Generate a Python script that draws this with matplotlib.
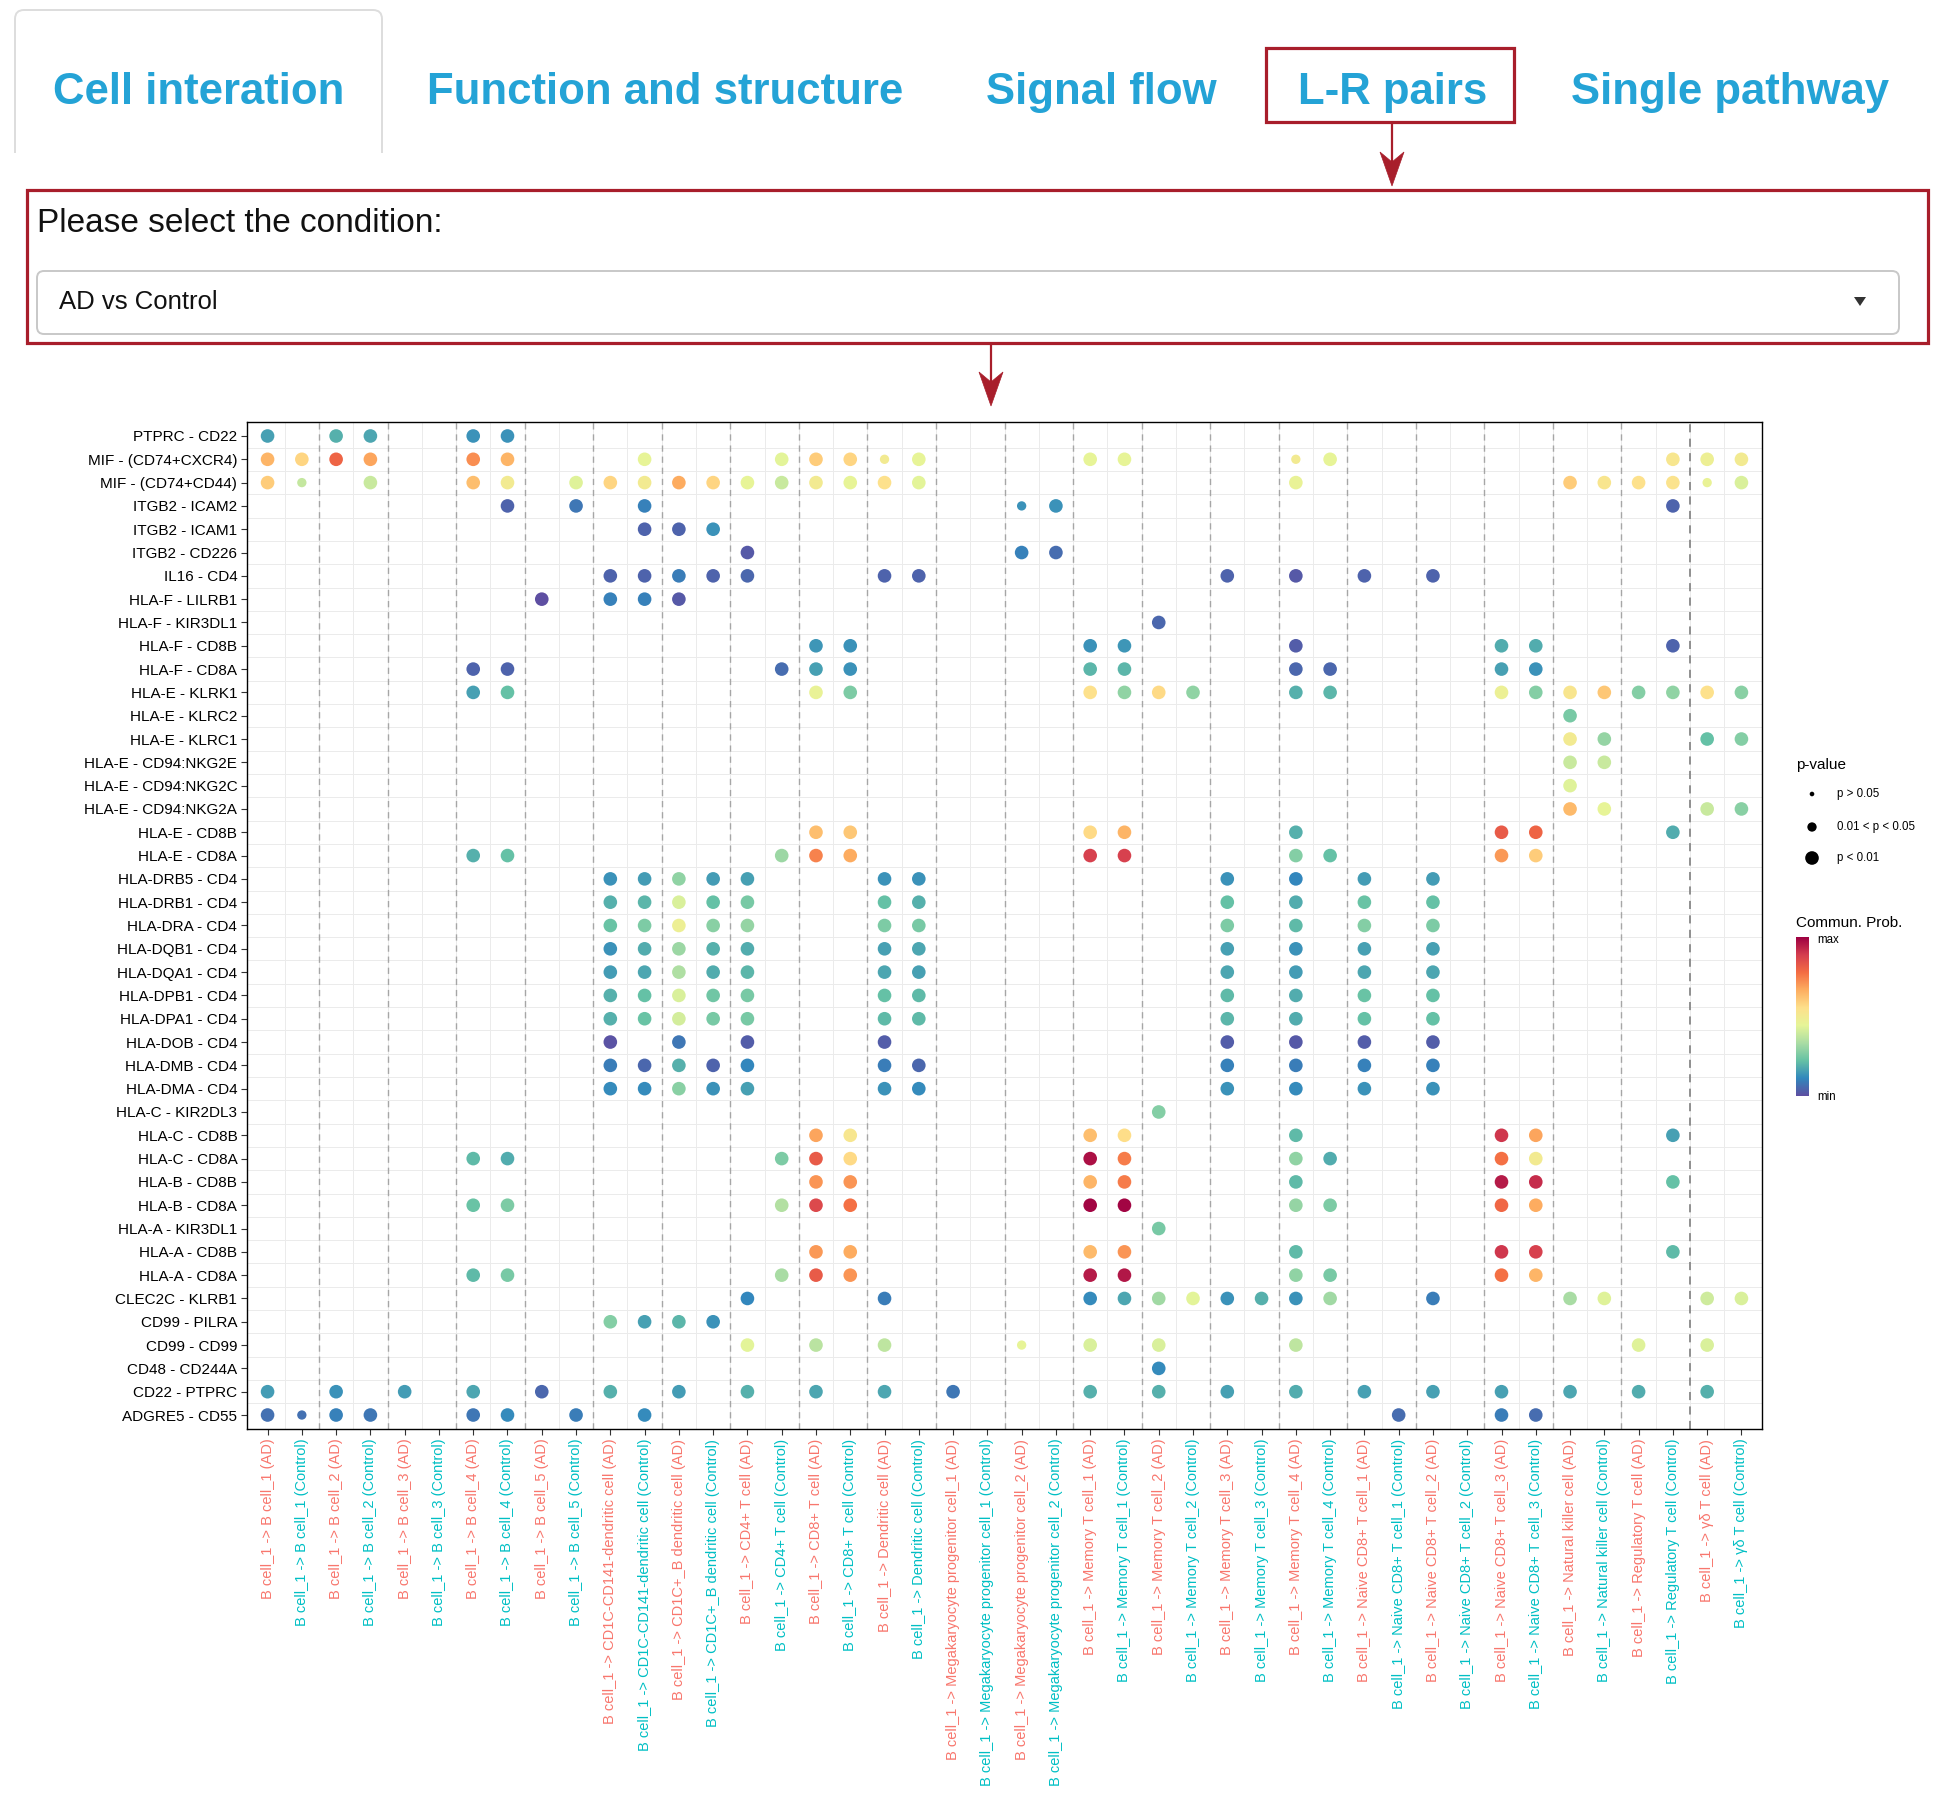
import matplotlib
matplotlib.use("Agg")
import matplotlib.pyplot as plt
import numpy as np
from matplotlib.colors import LinearSegmentedColormap
from matplotlib.patches import Rectangle, FancyBboxPatch, Polygon, PathPatch
from matplotlib.path import Path

plt.rcParams["font.family"] = ["Liberation Sans", "DejaVu Sans"]

W, H, DPI = 1938, 1795, 100

# ---------------------------------------------------------------------------
# Data
# ---------------------------------------------------------------------------
tabs = ["Cell interation", "Function and structure", "Signal flow", "L-R pairs", "Single pathway"]
prompt = "Please select the condition:"
choice = "AD vs Control"

source = "B cell_1"
targets = [
    "B cell_1", "B cell_2", "B cell_3", "B cell_4", "B cell_5",
    "CD1C-CD141-dendritic cell", "CD1C+_B dendritic cell", "CD4+ T cell",
    "CD8+ T cell", "Dendritic cell", "Megakaryocyte progenitor cell_1",
    "Megakaryocyte progenitor cell_2", "Memory T cell_1", "Memory T cell_2",
    "Memory T cell_3", "Memory T cell_4", "Naive CD8+ T cell_1",
    "Naive CD8+ T cell_2", "Naive CD8+ T cell_3", "Natural killer cell",
    "Regulatory T cell", "γδ T cell",
]
conditions = ["AD", "Control"]
columns = [f"{source} -> {t} ({c})" for t in targets for c in conditions]

pairs = [
    "PTPRC - CD22", "MIF - (CD74+CXCR4)", "MIF - (CD74+CD44)", "ITGB2 - ICAM2",
    "ITGB2 - ICAM1", "ITGB2 - CD226", "IL16 - CD4", "HLA-F - LILRB1",
    "HLA-F - KIR3DL1", "HLA-F - CD8B", "HLA-F - CD8A", "HLA-E - KLRK1",
    "HLA-E - KLRC2", "HLA-E - KLRC1", "HLA-E - CD94:NKG2E", "HLA-E - CD94:NKG2C",
    "HLA-E - CD94:NKG2A", "HLA-E - CD8B", "HLA-E - CD8A", "HLA-DRB5 - CD4",
    "HLA-DRB1 - CD4", "HLA-DRA - CD4", "HLA-DQB1 - CD4", "HLA-DQA1 - CD4",
    "HLA-DPB1 - CD4", "HLA-DPA1 - CD4", "HLA-DOB - CD4", "HLA-DMB - CD4",
    "HLA-DMA - CD4", "HLA-C - KIR2DL3", "HLA-C - CD8B", "HLA-C - CD8A",
    "HLA-B - CD8B", "HLA-B - CD8A", "HLA-A - KIR3DL1", "HLA-A - CD8B",
    "HLA-A - CD8A", "CLEC2C - KLRB1", "CD99 - PILRA", "CD99 - CD99",
    "CD48 - CD244A", "CD22 - PTPRC", "ADGRE5 - CD55",
]

# scaled commun. prob (0 = min, 1 = max), keyed by column number 1..44
prob = {
    "PTPRC - CD22": {1: .16, 3: .19, 4: .17, 7: .13, 8: .13},
    "MIF - (CD74+CXCR4)": {1: .65, 2: .58, 3: .80, 4: .68, 7: .72, 8: .65, 12: .45, 16: .44,
                           17: .60, 18: .58, 19: .50, 20: .45, 25: .45, 26: .45, 31: .50,
                           32: .45, 42: .52, 43: .48, 44: .50},
    "MIF - (CD74+CD44)": {1: .60, 2: .38, 4: .39, 7: .63, 8: .50, 10: .43, 11: .58, 12: .50,
                          13: .67, 14: .58, 15: .45, 16: .39, 17: .50, 18: .45, 19: .55,
                          20: .44, 31: .46, 39: .60, 40: .53, 41: .55, 42: .54, 43: .46, 44: .42},
    "ITGB2 - ICAM2": {8: .04, 10: .08, 12: .10, 23: .13, 24: .13, 42: .04},
    "ITGB2 - ICAM1": {12: .04, 13: .04, 14: .13},
    "ITGB2 - CD226": {15: .02, 23: .10, 24: .06},
    "IL16 - CD4": {11: .04, 12: .04, 13: .09, 14: .04, 15: .05, 19: .04, 20: .04, 29: .04,
                   31: .02, 33: .04, 35: .04},
    "HLA-F - LILRB1": {9: .00, 11: .10, 12: .10, 13: .02},
    "HLA-F - KIR3DL1": {27: .05},
    "HLA-F - CD8B": {17: .14, 18: .13, 25: .13, 26: .14, 31: .03, 37: .18, 38: .18, 42: .04},
    "HLA-F - CD8A": {7: .04, 8: .04, 16: .06, 17: .16, 18: .13, 25: .20, 26: .20, 31: .05,
                     32: .05, 37: .16, 38: .13},
    "HLA-E - KLRK1": {7: .16, 8: .22, 17: .46, 18: .26, 25: .55, 26: .29, 27: .57, 28: .29,
                      31: .19, 32: .20, 37: .47, 38: .27, 39: .53, 40: .61, 41: .27, 42: .29,
                      43: .55, 44: .28},
    "HLA-E - KLRC2": {39: .25},
    "HLA-E - KLRC1": {39: .50, 40: .30, 43: .22, 44: .27},
    "HLA-E - CD94:NKG2E": {39: .39, 40: .39},
    "HLA-E - CD94:NKG2C": {39: .43},
    "HLA-E - CD94:NKG2A": {39: .64, 40: .45, 43: .39, 44: .28},
    "HLA-E - CD8B": {17: .63, 18: .61, 25: .57, 26: .65, 31: .19, 37: .82, 38: .80, 42: .18},
    "HLA-E - CD8A": {7: .19, 8: .22, 16: .31, 17: .74, 18: .67, 25: .88, 26: .88, 31: .27,
                     32: .22, 37: .70, 38: .60},
    "HLA-DRB5 - CD4": {11: .13, 12: .15, 13: .29, 14: .15, 15: .16, 19: .13, 20: .13, 29: .13,
                       31: .11, 33: .15, 35: .15},
    "HLA-DRB1 - CD4": {11: .19, 12: .20, 13: .42, 14: .22, 15: .25, 19: .22, 20: .19, 29: .22,
                       31: .18, 33: .23, 35: .22},
    "HLA-DRA - CD4": {11: .23, 12: .26, 13: .48, 14: .28, 15: .30, 19: .26, 20: .25, 29: .26,
                      31: .21, 33: .27, 35: .26},
    "HLA-DQB1 - CD4": {11: .13, 12: .18, 13: .31, 14: .19, 15: .18, 19: .16, 20: .17, 29: .16,
                       31: .13, 33: .16, 35: .16},
    "HLA-DQA1 - CD4": {11: .15, 12: .17, 13: .34, 14: .18, 15: .20, 19: .17, 20: .16, 29: .17,
                       31: .15, 33: .17, 35: .17},
    "HLA-DPB1 - CD4": {11: .19, 12: .22, 13: .42, 14: .24, 15: .25, 19: .22, 20: .21, 29: .21,
                       31: .18, 33: .23, 35: .22},
    "HLA-DPA1 - CD4": {11: .19, 12: .23, 13: .41, 14: .25, 15: .25, 19: .21, 20: .21, 29: .20,
                       31: .18, 33: .22, 35: .22},
    "HLA-DOB - CD4": {11: .01, 13: .08, 15: .03, 19: .03, 29: .03, 31: .02, 33: .03, 35: .03},
    "HLA-DMB - CD4": {11: .09, 12: .05, 13: .19, 14: .04, 15: .11, 19: .09, 20: .05, 29: .10,
                      31: .09, 33: .10, 35: .10},
    "HLA-DMA - CD4": {11: .12, 12: .12, 13: .28, 14: .13, 15: .16, 19: .13, 20: .12, 29: .13,
                      31: .12, 33: .13, 35: .13},
    "HLA-C - KIR2DL3": {27: .27},
    "HLA-C - CD8B": {17: .68, 18: .52, 25: .63, 26: .56, 31: .21, 37: .90, 38: .68, 42: .16},
    "HLA-C - CD8A": {7: .21, 8: .18, 16: .26, 17: .82, 18: .57, 25: .97, 26: .75, 31: .29,
                     32: .18, 37: .77, 38: .50},
    "HLA-B - CD8B": {17: .71, 18: .71, 25: .65, 26: .75, 31: .21, 37: .95, 38: .92, 42: .22},
    "HLA-B - CD8A": {7: .23, 8: .26, 16: .35, 17: .86, 18: .77, 25: .99, 26: .99, 31: .30,
                     32: .26, 37: .79, 38: .67},
    "HLA-A - KIR3DL1": {27: .25},
    "HLA-A - CD8B": {17: .70, 18: .67, 25: .64, 26: .71, 31: .21, 37: .90, 38: .88, 42: .21},
    "HLA-A - CD8A": {7: .21, 8: .25, 16: .33, 17: .82, 18: .71, 25: .95, 26: .96, 31: .29,
                     32: .25, 37: .77, 38: .65},
    "CLEC2C - KLRB1": {15: .11, 19: .09, 25: .12, 26: .17, 27: .32, 28: .44, 29: .13, 30: .19,
                       31: .13, 32: .32, 35: .09, 39: .33, 40: .43, 43: .40, 44: .42},
    "CD99 - PILRA": {11: .27, 12: .16, 13: .20, 14: .13},
    "CD99 - CD99": {15: .44, 17: .36, 19: .37, 23: .45, 25: .42, 27: .42, 31: .37, 41: .43,
                    43: .42},
    "CD48 - CD244A": {27: .12},
    "CD22 - PTPRC": {1: .15, 3: .13, 5: .15, 7: .17, 9: .05, 11: .19, 13: .15, 15: .19, 17: .17,
                     19: .17, 21: .08, 25: .19, 27: .19, 29: .16, 31: .18, 33: .16, 35: .16,
                     37: .16, 39: .17, 41: .18, 43: .19},
    "ADGRE5 - CD55": {1: .07, 2: .07, 3: .10, 4: .08, 7: .08, 8: .12, 10: .09, 12: .12, 34: .06,
                      37: .09, 38: .06},
}

# dots in the 0.01 < p < 0.05 class; every other dot is p < 0.01
mid_p = [
    ("MIF - (CD74+CXCR4)", 19), ("MIF - (CD74+CXCR4)", 31),
    ("MIF - (CD74+CD44)", 2), ("MIF - (CD74+CD44)", 43),
    ("ITGB2 - ICAM2", 23), ("CD99 - CD99", 23), ("ADGRE5 - CD55", 2),
]

pval_labels = ["p > 0.05", "0.01 < p < 0.05", "p < 0.01"]

# ---------------------------------------------------------------------------
# Styles
# ---------------------------------------------------------------------------
spectral = ["#5E4FA2", "#3288BD", "#66C2A5", "#ABDDA4", "#E6F598",
            "#FEE08B", "#FDAE61", "#F46D43", "#D53E4F", "#9E0142"]
cmap = LinearSegmentedColormap.from_list("spectral_r", spectral)
SIZES = [11, 45, 96]             # marker area (pt^2) for the three p-value classes
TAB_BLUE = "#24A3D6"
RED = "#A81E2B"
AD_COL, CTRL_COL = "#F8766D", "#00BFC4"

fig = plt.figure(figsize=(W / DPI, H / DPI), dpi=DPI)

# overlay in pixel coordinates for the web page furniture
ov = fig.add_axes([0, 0, 1, 1])
ov.set_xlim(0, W)
ov.set_ylim(H, 0)
ov.axis("off")

# ── tabs ───────────────────────────────────────────────────────────────────
r = 9
tab_path = Path(
    [(15, 153), (15, 10 + r), (15, 10), (15 + r, 10), (382 - r, 10), (382, 10), (382, 10 + r), (382, 153)],
    [Path.MOVETO, Path.LINETO, Path.CURVE3, Path.CURVE3, Path.LINETO, Path.CURVE3, Path.CURVE3, Path.LINETO],
)
ov.add_patch(PathPatch(tab_path, fill=False, edgecolor="#dddddd", lw=1.4))
for label, cx in zip(tabs, [199, 665, 1101, 1393, 1730]):
    ov.text(cx, 104, label, ha="center", va="baseline", fontsize=31.5,
            fontweight="bold", color=TAB_BLUE)

ov.add_patch(Rectangle((1266, 48), 248, 74, fill=False, edgecolor=RED, lw=2.3))


def red_arrow(x, y0, y1):
    ov.plot([x, x], [y0, y1 - 20], color=RED, lw=1.6, solid_capstyle="butt")
    ov.add_patch(Polygon([(x, y1), (x - 12, y1 - 34), (x, y1 - 24), (x + 12, y1 - 34)],
                         closed=True, facecolor=RED, edgecolor=RED, lw=0.5))


red_arrow(1392, 122, 186)

# ── condition selector ─────────────────────────────────────────────────────
ov.add_patch(Rectangle((27, 190), 1901, 153, fill=False, edgecolor=RED, lw=2.3))
ov.text(37, 232, prompt, ha="left", va="baseline", fontsize=24, color="#111111")
ov.add_patch(FancyBboxPatch((37, 271), 1862, 63, boxstyle="round,pad=0,rounding_size=7",
                            facecolor="white", edgecolor="#c8c8c8", lw=1.4))
ov.text(59, 309, choice, ha="left", va="baseline", fontsize=18.5, color="#111111")
ov.add_patch(Polygon([(1854, 297), (1866, 297), (1860, 306)], closed=True,
                     facecolor="#333333", edgecolor="none"))
red_arrow(991, 343, 406)

# ---------------------------------------------------------------------------
# Bubble plot
# ---------------------------------------------------------------------------
ax = fig.add_axes([247 / W, 1 - 1429 / H, (1762 - 247) / W, (1429 - 422) / H])
n_rows, n_cols = len(pairs), len(columns)

xs, ys, vs, ss = [], [], [], []
for i, pair in enumerate(pairs):
    for col, v in prob[pair].items():
        xs.append(col)
        ys.append(n_rows - i)
        vs.append(v)
        ss.append(SIZES[1] if (pair, col) in mid_p else SIZES[2])

for x in np.arange(1.5, n_cols):
    ax.axvline(x, color="#ebebeb", lw=0.7, zorder=0)
for y in np.arange(1.5, n_rows):
    ax.axhline(y, color="#ebebeb", lw=0.7, zorder=0)
for x in np.arange(2.5, n_cols - 1, 2):
    last = x == n_cols - 1.5
    ax.axvline(x, color="#888888" if last else "#a6a6a6", lw=1.3 if last else 1.0,
               dashes=(4.5, 3.5), zorder=1)

ax.scatter(xs, ys, c=vs, cmap=cmap, vmin=0, vmax=1, s=ss, edgecolors="none", zorder=3)

ax.set_xlim(0.4, n_cols + 0.6)
ax.set_ylim(0.4, n_rows + 0.6)
ax.set_xticks(range(1, n_cols + 1))
ax.set_xticklabels(columns, rotation=90, fontsize=10.5)
ax.set_yticks(range(1, n_rows + 1))
ax.set_yticklabels(pairs[::-1], fontsize=11, color="black")
ax.tick_params(length=4, width=0.8, color="#333333", pad=3)
for lab in ax.get_xticklabels():
    lab.set_color(AD_COL if lab.get_text().endswith("(AD)") else CTRL_COL)
for sp in ax.spines.values():
    sp.set_color("black")
    sp.set_linewidth(1.0)

# ── legends ───────────────────────────────────────────────────────────────
ov.text(1796, 765, "p-value", ha="left", va="center", fontsize=11)
leg_y = [794, 827, 858]
ov.scatter([1812] * 3, leg_y, s=SIZES, color="black", edgecolors="none")
for y, lab in zip(leg_y, pval_labels):
    ov.text(1837, y, lab, ha="left", va="center", fontsize=8.3)

ov.text(1796, 923, "Commun. Prob.", ha="left", va="center", fontsize=11)
cax = fig.add_axes([1796 / W, 1 - 1096 / H, 13 / W, (1096 - 937) / H])
cax.imshow(np.linspace(0, 1, 256)[:, None], aspect="auto", cmap=cmap, origin="lower")
cax.axis("off")
ov.text(1817, 940, "max", ha="left", va="center", fontsize=8.3)
ov.text(1817, 1097, "min", ha="left", va="center", fontsize=8.3)

fig.savefig("out.png", dpi=DPI)
